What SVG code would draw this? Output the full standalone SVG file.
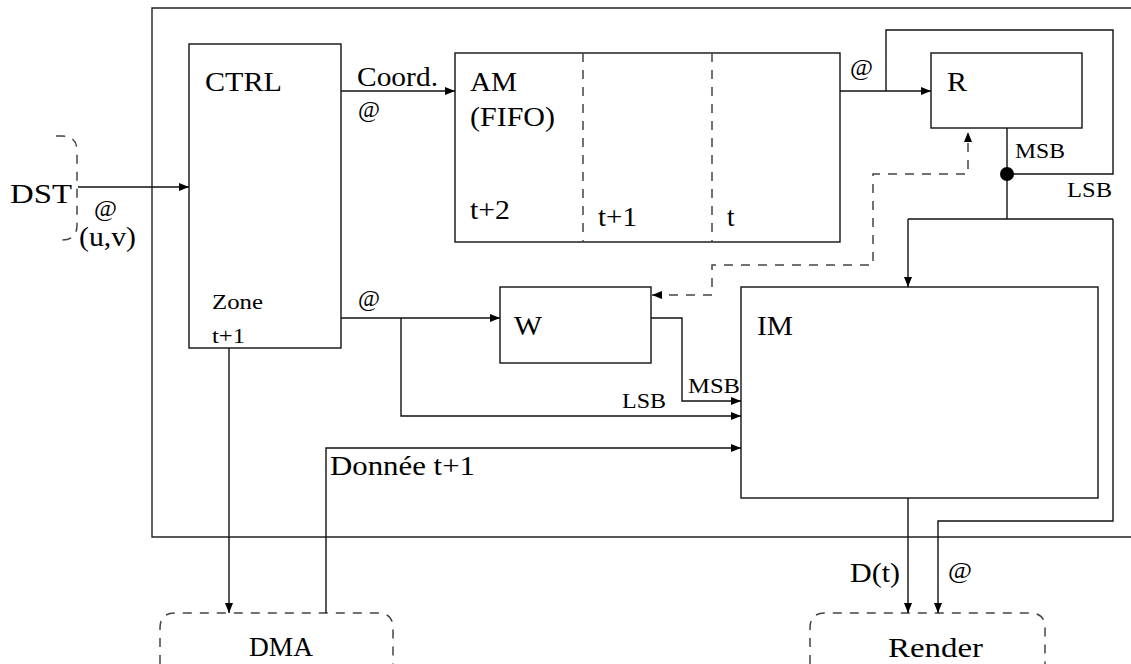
<svg xmlns="http://www.w3.org/2000/svg" width="1131" height="664" viewBox="0 0 1131 664" font-family="'Liberation Serif', 'Times New Roman', serif">
<style>
.box{fill:none;stroke:#111;stroke-width:1.4}
.ln{fill:none;stroke:#111;stroke-width:1.4}
.da{fill:none;stroke:#444;stroke-width:1.5;stroke-dasharray:9 8}
.frame{fill:none;stroke:#222;stroke-width:1.4}
</style>
<defs>
<marker id="ah" viewBox="0 0 10 8" refX="10" refY="4" markerWidth="10" markerHeight="8" markerUnits="userSpaceOnUse" orient="auto">
<path d="M0,0 L10,4 L0,8 Z" fill="#000"/>
</marker>
</defs>
<rect width="1131" height="664" fill="#fff"/>
<path class="frame" d="M1131,8 L152,8 L152,537 L1131,537"/>

<g id="DST">
<path class="da" d="M56,136 L62,136 Q77,136 77,151 L77,225 Q77,240 62,240"/>
<text font-size="27" x="10" y="203" textLength="62" lengthAdjust="spacingAndGlyphs">DST</text>
</g>
<g id="CTRL">
<rect class="box" x="189" y="44" width="152" height="304"/>
<text font-size="27" x="205" y="91" textLength="77" lengthAdjust="spacingAndGlyphs">CTRL</text>
<text font-size="21" x="212" y="309" textLength="51" lengthAdjust="spacingAndGlyphs">Zone</text>
<text font-size="21" x="212" y="343" textLength="33" lengthAdjust="spacingAndGlyphs">t+1</text>
</g>
<g id="AM">
<rect class="box" x="455" y="53" width="385" height="189"/>
<line class="da" x1="583" y1="53" x2="583" y2="242"/>
<line class="da" x1="712" y1="53" x2="712" y2="242"/>
<text font-size="27" x="470" y="91" textLength="47" lengthAdjust="spacingAndGlyphs">AM</text>
<text font-size="27" x="470" y="126" textLength="85" lengthAdjust="spacingAndGlyphs">(FIFO)</text>
<text font-size="27" x="470" y="219" textLength="40" lengthAdjust="spacingAndGlyphs">t+2</text>
<text font-size="27" x="598" y="226" textLength="39" lengthAdjust="spacingAndGlyphs">t+1</text>
<text font-size="27" x="727" y="226">t</text>
</g>
<g id="R">
<rect class="box" x="931" y="53" width="151" height="75"/>
<text font-size="27" x="947" y="91" textLength="20" lengthAdjust="spacingAndGlyphs">R</text>
</g>
<g id="W">
<rect class="box" x="500" y="287" width="151" height="76"/>
<text font-size="27" x="514" y="335" textLength="28" lengthAdjust="spacingAndGlyphs">W</text>
</g>
<g id="IM">
<rect class="box" x="741" y="287" width="357" height="211"/>
<text font-size="27" x="757" y="335" textLength="36" lengthAdjust="spacingAndGlyphs">IM</text>
</g>
<g id="DMA">
<path class="da" d="M160,664 L160,628 Q160,613 175,613 L378,613 Q393,613 393,628 L393,664"/>
<text font-size="27" x="249" y="656" textLength="64" lengthAdjust="spacingAndGlyphs">DMA</text>
</g>
<g id="Render">
<path class="da" d="M810,664 L810,628 Q810,613 825,613 L1030,613 Q1045,613 1045,628 L1045,664"/>
<text font-size="27" x="888" y="657" textLength="95" lengthAdjust="spacingAndGlyphs">Render</text>
</g>

<g id="connectors">
<line class="ln" x1="78" y1="187" x2="189" y2="187" marker-end="url(#ah)"/>
<text font-size="23" x="94" y="216" textLength="23" lengthAdjust="spacingAndGlyphs">@</text>
<text font-size="27" x="79" y="246" textLength="57" lengthAdjust="spacingAndGlyphs">(u,v)</text>

<line class="ln" x1="341" y1="91" x2="455" y2="91" marker-end="url(#ah)"/>
<text font-size="27" x="357" y="86" textLength="81" lengthAdjust="spacingAndGlyphs">Coord.</text>
<text font-size="23" x="358" y="117" textLength="22" lengthAdjust="spacingAndGlyphs">@</text>

<line class="ln" x1="840" y1="91" x2="931" y2="91" marker-end="url(#ah)"/>
<text font-size="23" x="850" y="75" textLength="23" lengthAdjust="spacingAndGlyphs">@</text>
<path class="ln" d="M886,91 L886,30 L1113,30 L1113,174 L1007,174"/>
<line class="ln" x1="1007" y1="128" x2="1007" y2="219"/>
<circle cx="1007" cy="174" r="7" fill="#000"/>
<text font-size="21" x="1015" y="158" textLength="50" lengthAdjust="spacingAndGlyphs">MSB</text>
<text font-size="21" x="1067" y="197" textLength="45" lengthAdjust="spacingAndGlyphs">LSB</text>
<path class="ln" d="M908,219 L1113,219"/>
<line class="ln" x1="908" y1="219" x2="908" y2="287" marker-end="url(#ah)"/>
<path class="ln" d="M1113,219 L1113,521 L938,521 L938,613" marker-end="url(#ah)"/>
<line class="ln" x1="908" y1="498" x2="908" y2="613" marker-end="url(#ah)"/>
<text font-size="27" x="850" y="582" textLength="50" lengthAdjust="spacingAndGlyphs">D(t)</text>
<text font-size="23" x="948" y="578" textLength="24" lengthAdjust="spacingAndGlyphs">@</text>

<path class="da" d="M652,295 L712,295 L712,265 L873,265 L873,174 L968,174 L968,134"/>
<path d="M968,132 L964,142 L972,142 Z" fill="#000"/>
<path d="M652,295 L662,291 L662,299 Z" fill="#000"/>

<line class="ln" x1="341" y1="318" x2="500" y2="318" marker-end="url(#ah)"/>
<text font-size="23" x="358" y="306" textLength="22" lengthAdjust="spacingAndGlyphs">@</text>
<path class="ln" d="M401,318 L401,416 L741,416" marker-end="url(#ah)"/>
<text font-size="21" x="622" y="408" textLength="44" lengthAdjust="spacingAndGlyphs">LSB</text>
<path class="ln" d="M651,318 L682,318 L682,401 L741,401" marker-end="url(#ah)"/>
<text font-size="21" x="688" y="393" textLength="52" lengthAdjust="spacingAndGlyphs">MSB</text>

<path class="ln" d="M326,613 L326,448 L741,448" marker-end="url(#ah)"/>
<text font-size="27" x="330" y="475" textLength="145" lengthAdjust="spacingAndGlyphs">Donnée t+1</text>

<line class="ln" x1="229" y1="348" x2="229" y2="613" marker-end="url(#ah)"/>
</g>
</svg>
